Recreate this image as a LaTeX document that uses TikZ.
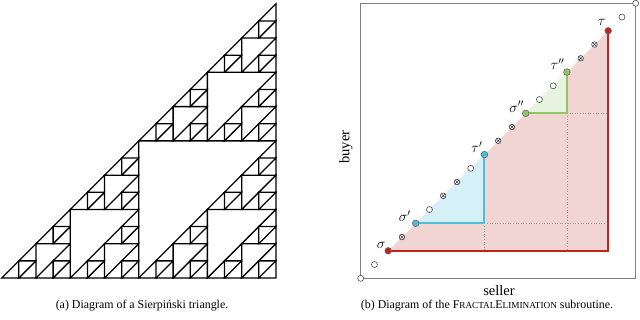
\documentclass[tikz,border=0pt]{standalone}
\usepackage{fontspec}
\setmainfont{Liberation Serif}
\usetikzlibrary{calc}
\definecolor{redline}{RGB}{190,38,28}
\definecolor{redfill}{RGB}{240,213,210}
\definecolor{blueline}{RGB}{78,190,218}
\definecolor{bluefill}{RGB}{214,240,247}
\definecolor{greenline}{RGB}{142,200,100}
\definecolor{greenfill}{RGB}{231,243,223}
\definecolor{framegray}{RGB}{128,128,128}
\definecolor{dotgray}{RGB}{150,150,150}
\newcommand{\fakesc}[2]{#1{\fontsize{9.2}{10}\selectfont #2}}
\begin{document}
\begin{tikzpicture}[x=1pt,y=-1pt,
  sier/.style={draw=black,line width=1.3pt},
  frame/.style={draw=framegray,line width=0.9pt},
  opendot/.style={circle,draw=black!70,fill=white,line width=0.6pt,minimum size=6pt,inner sep=0pt},
  xdot/.style={circle,draw=black!75,fill=white,line width=0.6pt,minimum size=5.6pt,inner sep=0pt,
     path picture={\draw[black!75,line width=0.5pt]
       (path picture bounding box.south west)--(path picture bounding box.north east)
       (path picture bounding box.north west)--(path picture bounding box.south east);}},
  cdot/.style={circle,draw=black!60,fill=#1,line width=0.6pt,minimum size=6.6pt,inner sep=0pt},
  lab/.style={inner sep=1pt,font=\fontsize{14.5}{16}\selectfont},
  txt/.style={inner sep=1pt,font=\fontsize{11.9}{14}\selectfont},
  axis/.style={inner sep=0pt,font=\fontsize{14.5}{16}\selectfont},
  dotted line/.style={draw=dotgray,line width=0.6pt,dotted},
  thick line/.style={line width=2pt,line cap=round,line join=miter}]
\useasboundingbox (0,0) rectangle (640,319);
% ---------- (a) Sierpinski triangle ----------
\begin{scope}[shift={(1.7,278)},x=17.14pt,y=17.14pt]
\foreach \ax/\ay in {0/0,8/0,8/8}
 \foreach \bx/\by in {0/0,4/0,4/4}
  \foreach \cx/\cy in {0/0,2/0,2/2}
   \foreach \dx/\dy in {0/0,1/0,1/1}
   {\draw[sier] ({\ax+\bx+\cx+\dx},{\ay+\by+\cy+\dy}) -- ++(1,0) -- ++(0,1) -- cycle;}
\end{scope}
\node[txt] (capa) at (142,305.5) {(a) Diagram of a Sierpiński triangle.};
% ---------- (b) FractalElimination ----------
\foreach \k in {0,...,20}
  \coordinate (p\k) at ({360.7+13.75*\k},{278.3-13.75*\k});
\coordinate (rc) at (p18 |- p2);
\coordinate (bc) at (p9 |- p4);
\coordinate (gc) at (p15 |- p12);
\fill[redfill] (p2) -- (rc) -- (p18) -- cycle;
\fill[bluefill] (p4) -- (bc) -- (p9) -- cycle;
\fill[greenfill] (p12) -- (gc) -- (p15) -- cycle;
\draw[frame] (p0) rectangle (p20);
\draw[dotted line] (bc) -- (p9 |- p2);
\draw[dotted line] (bc) -- (p18 |- p4);
\draw[dotted line] (gc) -- (p15 |- p2);
\draw[dotted line] (gc) -- (p18 |- p12);
\draw[thick line,redline] (p2) -- (rc) -- (p18);
\draw[thick line,blueline] (p4) -- (bc) -- (p9);
\draw[thick line,greenline] (p12) -- (gc) -- (p15);
\foreach \k in {0,1,5,8,13,14,19,20} \node[opendot] (d\k) at (p\k) {};
\foreach \k in {3,6,7,10,11,16,17} \node[xdot] (d\k) at (p\k) {};
\node[cdot=redline] (d2) at (p2) {};
\node[cdot=redline] (d18) at (p18) {};
\node[cdot=blueline] (d4) at (p4) {};
\node[cdot=blueline] (d9) at (p9) {};
\node[cdot=greenline] (d12) at (p12) {};
\node[cdot=greenline] (d15) at (p15) {};
\node[lab] (ls) at ($(p2)+(-7,-5.5)$) {$\sigma$};
\node[lab] (ls1) at ($(p4)+(-11,-7)$) {$\sigma'$};
\node[lab] (ls2) at ($(p12)+(-9,-6.5)$) {$\sigma''$};
\node[lab] (lt) at ($(p18)+(-6.5,-8)$) {$\tau$};
\node[lab] (lt1) at ($(p9)+(-7.5,-7.5)$) {$\tau'$};
\node[lab] (lt2) at ($(p15)+(-9.5,-8)$) {$\tau''$};
\node[axis] (seller) at (499,291) {seller};
\node[axis,rotate=90] (buyer) at (346,147) {buyer};
\node[txt] (capb) at (487,305.5) {(b) Diagram of the \fakesc{F}{RACTAL}\fakesc{E}{LIMINATION} subroutine.};
\end{tikzpicture}
\end{document}
